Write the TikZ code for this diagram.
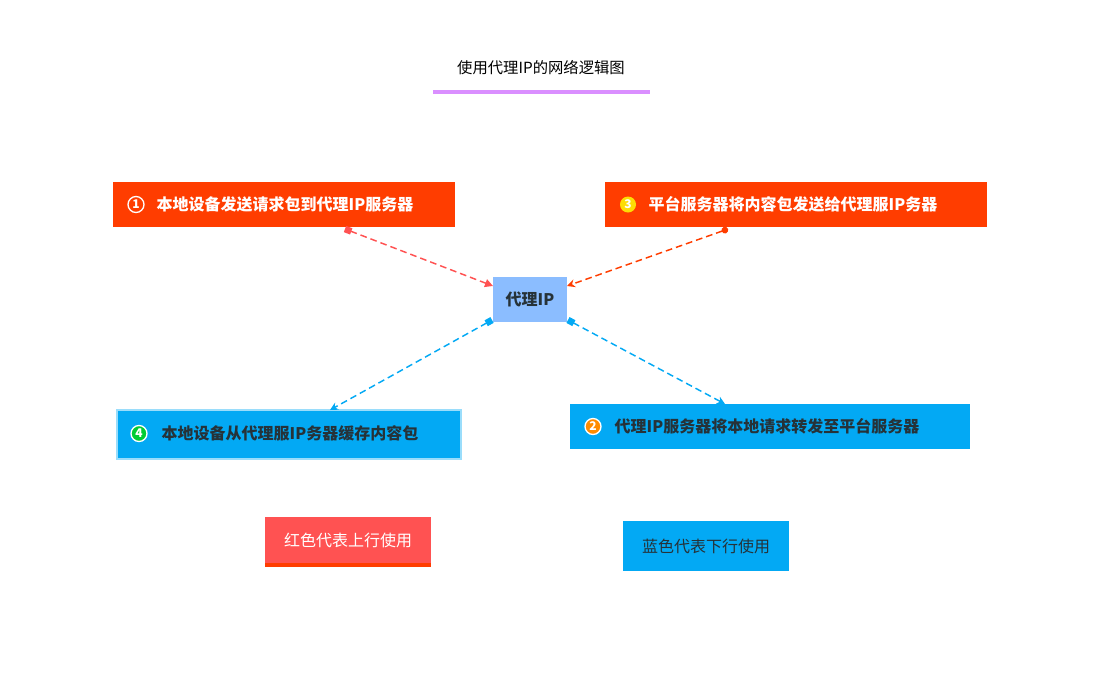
\documentclass[tikz,border=0pt]{standalone}
\usepackage{fontspec}
\setmainfont{Noto Sans CJK SC}
\usetikzlibrary{arrows.meta}
\definecolor{rd}{HTML}{FF3D00}
\definecolor{pk}{HTML}{FF5252}
\definecolor{bl}{HTML}{03A9F4}
\definecolor{lb}{HTML}{8BBDFF}
\definecolor{dk}{HTML}{263238}
\definecolor{pu}{HTML}{DA8FFF}
\tikzset{
 box/.style={anchor=north west,inner sep=0pt,font=\bfseries\fontsize{12}{14}\selectfont},
 redbox/.style={box,fill=rd,text=white},
 bluebox/.style={box,fill=bl,text=dk},
 conn/.style={dashed,line width=1.1pt,dash pattern=on 5pt off 3pt},
 num/.style={circle,inner sep=0pt,minimum size=12pt,font=\bfseries\fontsize{9}{9}\selectfont,text=white,line width=1pt}
}
\begin{document}
\begin{tikzpicture}[x=0.75pt,y=-0.75pt]
\useasboundingbox (0,0) rectangle (1095,697);
\node (title) at (541,68) {\fontsize{11.5}{13}\selectfont 使用代理IP的网络逻辑图};
\draw[pu,line width=3pt] (433,92) -- (650,92);

\node[redbox,minimum width=256.5pt,minimum height=33.75pt] (n1) at (113,182) {};
\node[num,draw=white] (c1) at (136,204.5) {1};
\node[anchor=west,font=\bfseries\fontsize{12}{14}\selectfont,text=white] (t1) at (152,204.5) {本地设备发送请求包到代理IP服务器};

\node[redbox,minimum width=286.5pt,minimum height=33.75pt] (n3) at (605,182) {};
\node[num,fill=yellow!80!orange] (c3) at (628,204.5) {3};
\node[anchor=west,font=\bfseries\fontsize{12}{14}\selectfont,text=white] (t3) at (644,204.5) {平台服务器将内容包发送给代理服IP务器};

\node[box,fill=lb,text=dk,minimum width=55.5pt,minimum height=33.75pt] (p) at (493,277) {};
\node[font=\bfseries\fontsize{12}{14}\selectfont,text=dk] (pt) at (530,299.5) {代理IP};

\node[bluebox,draw=bl!40,line width=1.5pt,minimum width=258pt,minimum height=36.75pt] (n4) at (116,409) {};
\node[num,fill=green!60!teal,draw=white] (c4) at (139,433.5) {4};
\node[anchor=west,font=\bfseries\fontsize{12}{14}\selectfont,text=dk] (t4) at (157,433.5) {本地设备从代理服IP务器缓存内容包};

\node[bluebox,minimum width=300pt,minimum height=33.75pt] (n2) at (570,404) {};
\node[num,fill=orange!90!yellow,draw=white] (c2) at (593,426.5) {2};
\node[anchor=west,font=\bfseries\fontsize{12}{14}\selectfont,text=dk] (t2) at (610,426.5) {代理IP服务器将本地请求转发至平台服务器};

\node[box,fill=pk,minimum width=124.5pt,minimum height=37.5pt] (lr) at (265,517) {};
\fill[rd] (265,563) rectangle (431,567);
\node[text=white,font=\fontsize{12}{14}\selectfont] (lrt) at (348,540) {红色代表上行使用};
\node[box,fill=bl,minimum width=124.5pt,minimum height=37.5pt] (lb) at (623,521) {};
\node[text=dk,font=\fontsize{12}{14}\selectfont] (lbt) at (706,546) {蓝色代表下行使用};

\coordinate (a1) at (345,229); \coordinate (b1) at (493,286);
\coordinate (a3) at (728,229); \coordinate (b3) at (567,286);
\coordinate (a4) at (492,320); \coordinate (b4) at (330,410);
\coordinate (a2) at (568,320); \coordinate (b2) at (725,404);
\draw[conn,pk,{Square[length=5pt,width=5pt]}-{Triangle[length=6pt,width=6pt]}] (a1) -- (b1);
\draw[conn,rd,{Circle[length=5pt]}-{Stealth[length=6pt,width=6pt]}] (a3) -- (b3);
\draw[conn,bl,{Square[length=5pt,width=5pt]}-{Stealth[length=6pt,width=6pt]}] (a4) -- (b4);
\draw[conn,bl,{Square[length=5pt,width=5pt]}-{Stealth[length=6pt,width=6pt]}] (a2) -- (b2);
\end{tikzpicture}
\end{document}
